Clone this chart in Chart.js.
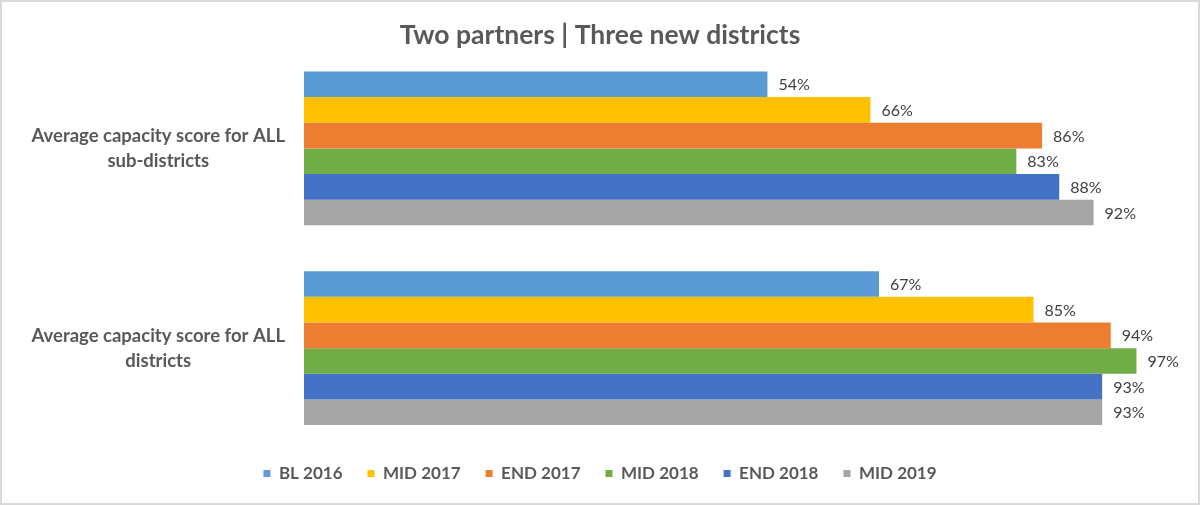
<!DOCTYPE html>
<html>
<head>
<meta charset="utf-8">
<script src="https://cdn.jsdelivr.net/npm/chart.js@4"></script>
<style>
  html, body { margin: 0; padding: 0; background: #fff; }
  #wrap { width: 1200px; height: 505px; }
</style>
</head>
<body>
<div id="wrap"><canvas id="grafico" width="1200" height="505"></canvas></div>
<script>
const categorias = [
  ["Average capacity score for ALL", "sub-districts"],
  ["Average capacity score for ALL", "districts"]
];
const series = ["BL 2016", "MID 2017", "END 2017", "MID 2018", "END 2018", "MID 2019"];
const bl2016 = [54, 67];
const mid2017 = [66, 85];
const end2017 = [86, 94];
const mid2018 = [83, 97];
const end2018 = [88, 93];
const mid2019 = [92, 93];
const cores = ["#5B9BD5", "#FFC000", "#ED7D31", "#70AD47", "#4472C4", "#A5A5A5"];

const valores = [bl2016, mid2017, end2017, mid2018, end2018, mid2019];
const fonte = "Lato, 'Open Sans', sans-serif";

// fundo branco e moldura cinza
const moldura = {
  id: "moldura",
  beforeDraw(chart) {
    const c = chart.ctx;
    c.save();
    c.fillStyle = "#fff";
    c.fillRect(0, 0, chart.width, chart.height);
    c.strokeStyle = "#d9d9d9";
    c.lineWidth = 2;
    c.strokeRect(1, 1, chart.width - 2, chart.height - 2);
    c.restore();
  }
};

// legenda um pouco mais perto das barras
const subirLegenda = {
  id: "subirLegenda",
  afterLayout(chart) {
    if (chart.legend) {
      chart.legend.top -= 8;
      chart.legend.bottom -= 8;
    }
  }
};

// rótulos de valor no fim de cada barra
const rotulos = {
  id: "rotulos",
  afterDatasetsDraw(chart) {
    const c = chart.ctx;
    c.save();
    c.font = "16px " + fonte;
    c.fillStyle = "#404040";
    c.textAlign = "left";
    c.textBaseline = "middle";
    chart.data.datasets.forEach((ds, i) => {
      chart.getDatasetMeta(i).data.forEach((bar, j) => {
        c.fillText(ds.data[j] + "%", bar.x + 11, bar.y + 1);
      });
    });
    c.restore();
  }
};

new Chart(document.getElementById("grafico").getContext("2d"), {
  type: "bar",
  data: {
    labels: categorias,
    datasets: series.map((s, i) => ({
      label: s,
      data: valores[i],
      backgroundColor: cores[i],
      borderWidth: 0,
      categoryPercentage: 0.77,
      barPercentage: 1.0
    }))
  },
  options: {
    indexAxis: "y",
    responsive: false,
    animation: false,
    devicePixelRatio: 1,
    layout: { padding: { left: 0, right: 0, top: 0, bottom: 5 } },
    scales: {
      x: { display: false, min: 0, max: 104.4 },
      y: {
        grid: { display: false },
        border: { display: false },
        ticks: {
          crossAlign: "center",
          padding: 11,
          color: "#595959",
          font: { family: fonte, size: 18.5, weight: "bold", lineHeight: 1.35 }
        },
        afterFit(scale) { scale.width = 304; }
      }
    },
    plugins: {
      title: {
        display: true,
        text: "Two partners | Three new districts",
        color: "#595959",
        font: { family: fonte, size: 26.5, weight: "bold", lineHeight: 1.0 },
        padding: { top: 22, bottom: 0 }
      },
      legend: {
        position: "bottom",
        labels: {
          boxWidth: 7,
          boxHeight: 7,
          padding: 25,
          color: "#595959",
          font: { family: fonte, size: 17, weight: "bold" }
        }
      },
      tooltip: { enabled: false }
    }
  },
  plugins: [moldura, subirLegenda, rotulos]
});
</script>
</body>
</html>
